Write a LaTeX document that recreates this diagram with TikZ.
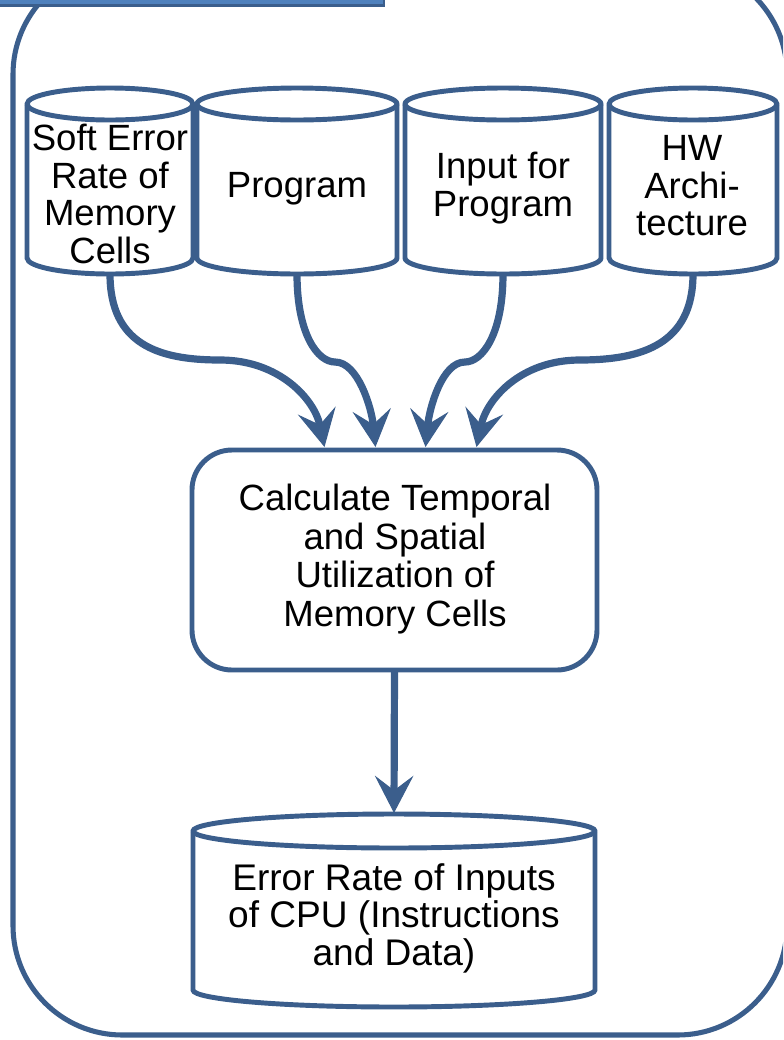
\documentclass[tikz,border=0pt]{standalone}
\usepackage{fontspec}
\setmainfont{Liberation Sans}
\usetikzlibrary{arrows.meta,calc}
\definecolor{frame}{HTML}{3B5E8C}
\definecolor{tabfill}{HTML}{4F81BD}

% body of a drum (database) symbol: named rectangle between the two ellipse centres,
% outline drawn on top with a full upper ellipse and a lower half ellipse
% #1 name, #2 centre x, #3 centre y, #4 width, #5 height, #6 ellipse y radius
\newcommand\drum[6]{%
  \node[body, minimum width=#4*0.75pt, minimum height=#5*0.75pt] (#1) at (#2,#3) {};
  \draw[outline, fill=white] (#1.north west) -- (#1.south west)
    arc[start angle=180, end angle=360, x radius=#4*0.375pt, y radius=#6*0.75pt]
    -- (#1.north east)
    arc[start angle=0, end angle=180, x radius=#4*0.375pt, y radius=#6*0.75pt] -- cycle;
  \draw[outline] (#1.north west)
    arc[start angle=180, end angle=360, x radius=#4*0.375pt, y radius=#6*0.75pt];
}

\begin{document}
\begin{tikzpicture}[x=0.75pt,y=0.75pt,
  outline/.style={draw=frame, line width=3.7pt},
  flow/.style={draw=frame, line width=5.4pt,
    -{Stealth[length=28pt, width=29pt, inset=11pt, line width=0.8pt]}},
  body/.style={inner sep=0pt, outer sep=0pt},
  label/.style={align=center, inner sep=0pt,
    font=\fontsize{27.4}{28.1}\selectfont},
  stepbox/.style={draw=frame, line width=3.7pt, rounded corners=30pt,
    inner sep=0pt, outer sep=0pt, fill=white},
]
\useasboundingbox (0,0) rectangle (783,-1040);
\clip (0,0) rectangle (783,-1040);

% surrounding frame and its title tab
\draw[draw=frame, line width=3.8pt, rounded corners=82pt] (13,35) rectangle (787,-1035);
\draw[fill=tabfill, draw=frame, line width=2.2pt] (-10,40) rectangle (384,-5.5);

% processing step
\node[stepbox, minimum width=405*0.75pt, minimum height=220*0.75pt] (calc) at (394.5,-560) {};
\node[align=center, inner sep=0pt, font=\fontsize{27.4}{28.9}\selectfont]
  (tc) at (395,-559) {Calculate Temporal\\and Spatial\\Utilization of\\Memory Cells};

% input drums
\drum{c1}{110}{-181}{166}{154}{16}
\drum{c2}{297}{-181}{200}{154}{16}
\drum{c3}{503}{-181}{196}{154}{16}
\drum{c4}{693}{-181}{168}{154}{16}

\node[label] (t1) at (110,-194) {Soft Error\\Rate of\\Memory\\Cells};
\node[label] (t2) at (297,-189) {Program};
\node[label] (t3) at (503,-188) {Input for\\Program};
\node[label] (t4) at (692,-186) {HW\\Archi-\\tecture};

% output drum
\drum{out}{394}{-910.5}{402}{159}{17}
\node[label, font=\fontsize{27.8}{28.1}\selectfont] (t5) at (394,-918)
  {Error Rate of Inputs\\of CPU (Instructions\\and Data)};

% connectors
\draw[flow] ($(c1.south)+(0,-16)$) .. controls +(0,-70) and +(-62,0) .. ++(110,-86)
  .. controls +(60,0) and +(-10,47) .. ($(calc.north)+(-70,3)$);
\draw[flow] ($(c2.south)+(0,-16)$) .. controls +(0,-61) and +(-17,0) .. ++(38,-88)
  .. controls +(23,0) and +(-4,39) .. ($(calc.north)+(-19,3)$);
\draw[flow] ($(c3.south)+(0,-16)$) .. controls +(0,-61) and +(17,0) .. ++(-38,-88)
  .. controls +(-23,0) and +(4,39) .. ($(calc.north)+(31,3)$);
\draw[flow] ($(c4.south)+(0,-16)$) .. controls +(0,-70) and +(62,0) .. ++(-113,-86)
  .. controls +(-60,0) and +(10,47) .. ($(calc.north)+(82,3)$);
\draw[flow] (calc.south) -- ($(out.north)+(0,18)$);
\end{tikzpicture}
\end{document}
